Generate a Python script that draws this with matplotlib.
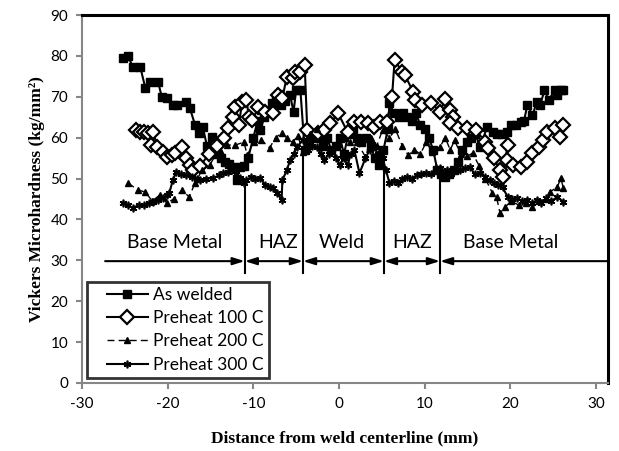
import matplotlib
matplotlib.use("Agg")
import matplotlib.pyplot as plt
from matplotlib.legend_handler import HandlerLine2D

plt.rcParams["axes.unicode_minus"] = False

# Microhardness traverse across the weld, one list pair per condition
as_welded_x = [-25.2, -24.6, -24.1, -23.2, -22.6, -22.1, -21.1, -20.7, -20.1, -19.4,
               -18.9, -17.9, -17.4, -16.8, -16.3, -15.9, -15.4, -14.8, -14.3, -13.8,
               -13.3, -12.8, -12.4, -11.9, -11.6, -11.1, -10.6, -10.0, -9.5, -9.2,
               -8.7, -8.2, -7.8, -7.3, -6.8, -6.3, -5.7, -5.3, -5.0, -4.5,
               -4.0, -3.5, -3.0, -2.5, -1.9, -1.4, -0.9, -0.4, 0.1, 0.6,
               1.1, 1.6, 2.1, 2.6, 3.2, 3.7, 4.2, 4.7, 5.2, 5.7,
               5.9, 6.4, 7.0, 7.5, 8.0, 8.5, 9.0, 9.5, 10.0, 10.5,
               11.0, 11.5, 11.9, 12.4, 12.9, 13.4, 13.9, 14.4, 14.9, 15.4,
               15.9, 16.5, 17.3, 18.0, 18.5, 19.0, 19.6, 20.1, 20.7, 21.2,
               21.6, 22.0, 22.6, 23.1, 23.5, 24.0, 24.5, 25.2, 25.5, 25.9, 26.2]
as_welded_y = [79.5, 80.0, 77.3, 77.3, 72.1, 73.6, 73.6, 70.0, 69.7, 68.0,
               68.0, 68.7, 67.2, 63.1, 61.1, 62.6, 57.9, 60.1, 57.0, 55.0,
               54.0, 53.5, 52.8, 49.6, 52.8, 53.0, 55.0, 60.0, 64.0, 61.9,
               65.0, 66.0, 68.5, 69.7, 68.0, 69.0, 70.4, 66.3, 71.6, 71.6,
               57.0, 59.0, 61.0, 60.0, 58.0, 60.0, 57.0, 58.0, 60.0, 56.0,
               61.0, 62.0, 60.0, 59.0, 60.0, 58.0, 55.0, 53.3, 57.0, 62.0,
               68.5, 66.0, 65.0, 66.0, 65.0, 64.0, 66.0, 63.0, 62.0, 60.0,
               57.0, 52.0, 51.0, 50.4, 51.0, 52.0, 54.0, 57.0, 59.0, 60.0,
               61.0, 57.7, 62.6, 61.4, 61.0, 61.0, 61.5, 63.0, 63.0, 63.8,
               64.0, 68.0, 65.5, 68.7, 68.0, 71.6, 69.2, 71.6, 70.5, 71.6, 71.6]

pre100_x = [-23.7, -23.2, -22.8, -22.3, -22.0, -21.7, -21.2, -20.6, -20.1, -19.5,
            -19.2, -18.3, -17.9, -17.4, -17.0, -16.2, -15.2, -14.2, -13.4, -12.9,
            -12.4, -12.1, -11.7, -11.3, -10.8, -10.5, -10.1, -9.4, -8.6, -7.7,
            -7.1, -6.6, -6.1, -5.4, -5.1, -4.5, -4.0, -3.7, -2.5, -1.7,
            -1.0, -0.1, 1.0, 1.8, 2.6, 3.4, 4.1, 4.8, 5.6, 6.2,
            6.5, 7.4, 7.7, 8.7, 8.9, 9.7, 10.8, 11.8, 12.4, 13.0,
            13.3, 13.0, 13.9, 14.9, 16.0, 17.1, 17.4, 18.1, 18.8, 19.1,
            19.7, 19.6, 20.3, 21.2, 22.0, 22.6, 23.4, 23.8, 24.3, 25.2,
            25.8, 26.2]
pre100_y = [61.9, 61.4, 61.4, 61.1, 58.2, 61.4, 57.7, 56.5, 55.3, 55.7,
            56.2, 57.7, 55.0, 53.3, 52.1, 53.0, 56.0, 58.0, 60.0, 62.3,
            65.0, 67.5, 63.0, 68.7, 69.2, 65.0, 64.3, 67.5, 66.3, 66.0,
            70.4, 69.7, 74.8, 74.6, 76.0, 76.0, 77.8, 61.9, 61.1, 61.9,
            63.6, 66.0, 61.4, 63.8, 63.8, 63.6, 62.6, 63.8, 63.8, 70.0,
            79.0, 76.0, 75.3, 71.1, 69.2, 68.0, 68.5, 66.3, 69.5, 66.7,
            65.0, 63.6, 62.3, 62.3, 61.9, 58.9, 57.5, 55.0, 52.0, 50.4,
            58.2, 54.5, 53.3, 52.8, 54.0, 56.2, 57.7, 59.4, 61.4, 62.3,
            60.1, 63.1]

pre200_x = [-24.6, -23.5, -22.6, -21.8, -20.9, -20.1, -19.3, -18.3, -17.5, -16.8,
            -16.0, -15.1, -14.4, -13.8, -13.1, -12.1, -11.1, -10.7, -9.9, -9.1,
            -8.1, -7.4, -6.7, -6.1, -5.4, -4.8, -4.2, -3.4, -2.6, -1.8,
            -0.9, -0.1, 0.7, 1.3, 2.1, 3.1, 3.8, 4.4, 5.1, 5.9,
            6.6, 7.4, 8.1, 8.8, 9.5, 10.2, 10.9, 11.8, 12.4, 13.0,
            13.5, 14.2, 15.0, 15.6, 16.4, 17.1, 17.9, 18.4, 18.8, 19.4,
            20.1, 21.0, 21.8, 22.6, 23.4, 24.2, 24.6, 25.5, 25.9, 26.2]
pre200_y = [48.9, 47.2, 46.7, 44.5, 46.0, 44.0, 45.0, 47.2, 45.5, 48.9,
            52.0, 53.3, 55.7, 56.5, 58.2, 58.2, 58.9, 55.7, 59.0, 59.5,
            57.5, 60.0, 61.1, 60.0, 58.9, 60.5, 56.5, 61.0, 62.0, 60.0,
            57.0, 58.5, 60.0, 58.9, 58.9, 55.3, 60.0, 58.0, 61.9, 60.0,
            62.0, 58.0, 55.7, 57.0, 56.0, 58.9, 56.5, 57.7, 60.0, 57.0,
            59.4, 56.0, 55.5, 56.2, 53.0, 50.0, 46.5, 45.5, 41.6, 43.0,
            44.5, 43.5, 44.0, 43.0, 44.5, 45.0, 46.7, 47.9, 50.1, 47.7]

pre300_x = [-25.2, -24.6, -24.1, -23.4, -22.8, -22.2, -21.7, -21.1, -20.6, -20.1,
            -19.8, -19.4, -19.0, -18.4, -17.9, -17.1, -16.6, -16.2, -15.5, -14.7,
            -14.0, -13.5, -13.0, -12.5, -12.0, -11.6, -11.1, -10.8, -10.3, -9.8,
            -9.2, -8.6, -8.1, -7.7, -7.2, -6.7, -6.6, -6.1, -5.7, -5.3,
            -4.9, -4.2, -3.6, -3.1, -2.6, -2.1, -1.7, -1.2, -0.8, -0.3,
            0.1, 0.6, 1.0, 1.4, 1.8, 2.4, 3.1, 3.6, 4.0, 4.6,
            5.1, 5.5, 5.9, 6.4, 6.9, 7.4, 7.9, 8.5, 9.1, 9.6,
            10.2, 10.7, 11.3, 11.8, 12.2, 12.6, 13.1, 13.7, 14.1, 14.7,
            15.3, 15.9, 16.5, 17.0, 17.6, 18.1, 18.6, 19.1, 19.7, 20.2,
            20.8, 21.4, 22.0, 22.5, 23.1, 23.6, 24.2, 24.8, 25.5, 26.2]
pre300_y = [44.0, 43.5, 42.8, 43.5, 43.5, 44.0, 44.3, 44.8, 45.2, 46.0,
            46.5, 49.6, 51.6, 51.0, 50.8, 50.4, 50.0, 49.6, 50.0, 50.1,
            50.8, 51.3, 51.5, 52.0, 51.0, 50.1, 49.0, 49.6, 50.4, 50.0,
            50.1, 48.4, 48.0, 47.7, 46.5, 44.7, 49.6, 52.0, 54.5, 56.0,
            57.7, 59.4, 57.0, 58.0, 57.7, 56.0, 54.5, 56.0, 57.0, 55.0,
            53.3, 55.0, 53.3, 56.0, 57.0, 51.3, 55.0, 57.0, 57.7, 56.0,
            55.0, 52.0, 48.9, 49.5, 49.0, 50.0, 50.4, 50.0, 50.9, 51.0,
            51.3, 51.0, 52.6, 52.6, 51.5, 52.0, 51.0, 52.0, 52.0, 52.5,
            52.8, 51.0, 51.3, 50.5, 49.6, 49.0, 48.5, 47.9, 45.5, 45.0,
            45.2, 44.5, 44.7, 44.0, 44.7, 44.0, 45.2, 44.5, 45.5, 44.3]

# zone boundaries (mm) and zone labels along the y=30 line
zone_edges = [-11.0, -4.2, 5.25, 11.8]
zone_tops = [49, 56, 57, 50]
zone_names = ["Base Metal", "HAZ", "Weld", "HAZ", "Base Metal"]
zone_label_x = [-19.2, -7.1, 0.35, 8.6, 20.1]

fig = plt.figure(figsize=(6.19, 4.51), dpi=100)
ax = fig.add_axes([0.1325, 0.1508, 0.8495, 0.8159])

sans = "Lato"
serif = "Liberation Serif"

ax.plot(as_welded_x, as_welded_y, color="black", lw=1.5, marker="s", ms=5.2,
        mfc="black", mec="black", label="As welded")
ax.plot(pre100_x, pre100_y, color="black", lw=1.5, marker="D", ms=7.2,
        mfc="white", mec="black", mew=1.6, label="Preheat 100 C")
ax.plot(pre200_x, pre200_y, color="black", lw=1.0, ls=(0, (5, 3)), marker="^",
        ms=4.5, mfc="black", mec="black", label="Preheat 200 C")
ax.plot(pre300_x, pre300_y, color="black", lw=1.5, marker=(6, 2, 0), ms=5.5,
        mfc="black", mec="black", mew=1.2, label="Preheat 300 C")

# zone markers
y_arrow = 29.8
for xe, yt in zip(zone_edges, zone_tops):
    ax.plot([xe, xe], [27.0, yt], color="black", lw=1.5, zorder=5)

arrow_kw = dict(color="black", lw=1.5, shrinkA=0, shrinkB=0)
segments = [(-27.3, zone_edges[0], "-|>"),
            (zone_edges[0], zone_edges[1], "<|-|>"),
            (zone_edges[1], zone_edges[2], "<|-|>"),
            (zone_edges[2], zone_edges[3], "<|-|>"),
            (zone_edges[3], 31.4, "<|-")]
for x0, x1, style in segments:
    ax.annotate("", xy=(x1, y_arrow), xytext=(x0, y_arrow),
                arrowprops=dict(arrowstyle=style + ",head_length=0.7,head_width=0.22",
                                **arrow_kw), zorder=5)
for name, xl in zip(zone_names, zone_label_x):
    ax.text(xl, 33.0, name, ha="center", va="baseline", fontsize=14, family=sans)

ax.set_xlim(-30, 31.4)
ax.set_ylim(0, 90)
ax.set_xticks(range(-30, 31, 10))
ax.set_yticks(range(0, 91, 10))
for lab in ax.get_xticklabels() + ax.get_yticklabels():
    lab.set_family(sans)
    lab.set_fontsize(11)

for side in ["left", "bottom"]:
    ax.spines[side].set_color("#868686")
    ax.spines[side].set_linewidth(1.5)
for side in ["top", "right"]:
    ax.spines[side].set_color("black")
    ax.spines[side].set_linewidth(2.2)
ax.tick_params(direction="out", length=4, width=1.5, color="#868686", pad=6)

ax.set_xlabel("Distance from weld centerline (mm)", family=serif,
              fontweight="bold", fontsize=12.5, labelpad=14)
ax.set_ylabel("Vickers Microhardness (kg/mm²)", family=serif,
              fontweight="bold", fontsize=12.5, labelpad=4)

handler = HandlerLine2D(xpad=0.85)
leg = ax.legend(loc="lower left", bbox_to_anchor=(0.009, 0.014), frameon=True,
                fancybox=False, prop={"family": sans, "size": 12.5},
                handlelength=3.2, handletextpad=0.3, labelspacing=0.42,
                borderpad=0.3, borderaxespad=0,
                handler_map={line: handler for line in ax.get_lines()[:4]})
leg.get_frame().set_edgecolor("black")
leg.get_frame().set_linewidth(2)
leg.set_zorder(10)

fig.savefig("out.png", dpi=100)
